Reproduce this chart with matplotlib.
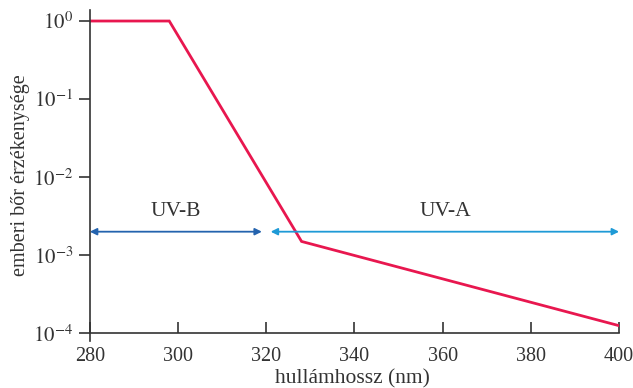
import matplotlib.pyplot as plt

plt.rcParams['font.family'] = ['Liberation Serif', 'DejaVu Serif']
plt.rcParams['mathtext.fontset'] = 'stix'

# hullámhossz (nm) és relatív érzékenység
wl = [280, 298, 328, 400]
sens = [1.0, 1.0, 1.5e-3, 1.25e-4]

uvb = (280, 319)
uva = (321, 400)
arrow_y = 2.0e-3
label_y = 3.6e-3

xticks = [280, 300, 320, 340, 360, 380, 400]
yticks = [1e0, 1e-1, 1e-2, 1e-3, 1e-4]
ylabels = [r'$10^{0}$', r'$10^{-1}$', r'$10^{-2}$', r'$10^{-3}$', r'$10^{-4}$']

fig = plt.figure(figsize=(6.33, 3.88), dpi=100)
ax = fig.add_axes([0.142, 0.121, 0.836, 0.853])

ax.plot(wl, sens, color='#E8174F', lw=2, solid_joinstyle='miter')

ax.annotate('', xy=(uvb[0], arrow_y), xytext=(uvb[1], arrow_y),
            arrowprops=dict(arrowstyle='<|-|>', color='#2463AE', lw=1.3,
                            mutation_scale=10, shrinkA=0, shrinkB=0))
ax.annotate('', xy=(uva[0], arrow_y), xytext=(uva[1], arrow_y),
            arrowprops=dict(arrowstyle='<|-|>', color='#1E9AD6', lw=1.3,
                            mutation_scale=10, shrinkA=0, shrinkB=0))
ax.text(sum(uvb) / 2, label_y, 'UV-B', ha='center', va='center', fontsize=15.5, color='#333333')
ax.text(sum(uva) / 2, label_y, 'UV-A', ha='center', va='center', fontsize=15.5, color='#333333')

ax.set_yscale('log')
ax.set_xlim(280, 400)
ax.set_ylim(10 ** -4.1, 10 ** 0.14)
ax.set_xticks(xticks)
ax.set_yticks(yticks)
ax.set_yticklabels(ylabels)
ax.minorticks_off()

for s in ['top', 'right']:
    ax.spines[s].set_visible(False)
ax.spines['bottom'].set_position(('data', 1e-4))
ax.spines['bottom'].set_bounds(280, 400)
for s in ['left', 'bottom']:
    ax.spines[s].set_color('#333333')
    ax.spines[s].set_linewidth(1.2)

ax.tick_params(axis='x', direction='in', length=8, width=1.2, color='#333333',
               labelsize=14.5, labelcolor='#333333', pad=10)
ax.tick_params(axis='y', direction='out', length=8, width=1.2, color='#333333',
               labelsize=15, labelcolor='#333333', pad=4)

ax.set_xlabel('hullámhossz (nm)', fontsize=15.5, color='#333333')
ax.xaxis.set_label_coords(0.497, -0.085)
ax.set_ylabel('emberi bőr érzékenysége', fontsize=14.5, color='#333333', labelpad=2)

fig.savefig('out.png', dpi=100)
